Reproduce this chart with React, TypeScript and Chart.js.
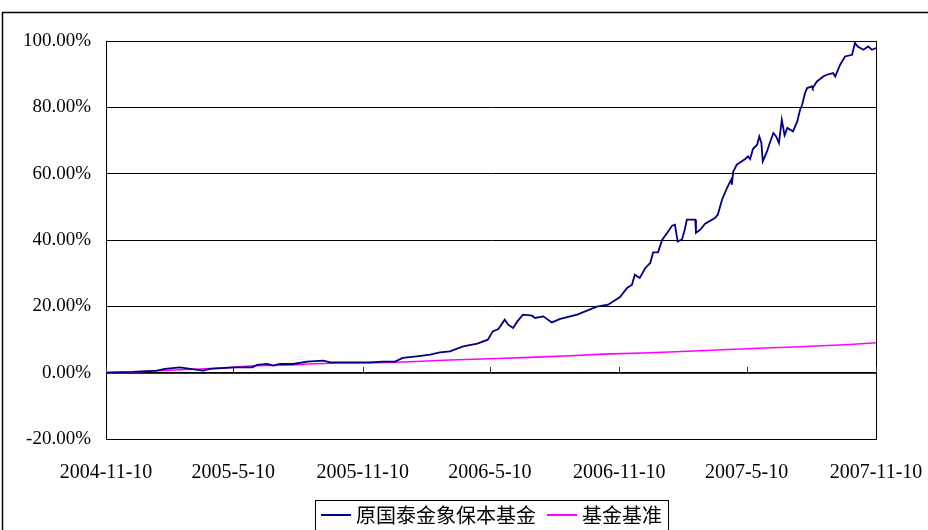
import React, { useEffect, useRef } from 'react';
import { Chart, registerables } from 'chart.js';

Chart.register(...registerables);

const W = 928;
const H = 530;

// Series names (legend)
const seriesNames = ['原国泰金象保本基金', '基金基准'];

// X axis: days since 2004-11-10, tick positions and labels
const tickDays = [0, 181, 365, 546, 730, 911, 1095];
const tickLabels = ['2004-11-10', '2005-5-10', '2005-11-10', '2006-5-10', '2006-11-10', '2007-5-10', '2007-11-10'];

// Y axis
const yMin = -20;
const yMax = 100;
const yStep = 20;

// Fund cumulative return (%)
const fundDays = [
  0, 38, 72, 84, 105, 120, 138, 148, 181, 208,
  215, 229, 238, 247, 266, 286, 309, 319, 351, 375,
  393, 411, 422, 442, 461, 475, 489, 508, 528, 543,
  550, 558, 567, 572, 579, 585, 593, 606, 610, 622,
  634, 646, 670, 685, 698, 714, 731, 741, 748, 752,
  759, 767, 774, 778, 785, 791, 798, 805, 809, 813,
  819, 823, 826, 838, 839, 845, 852, 866, 870, 876,
  883, 889, 890, 892, 897, 909, 913, 916, 920, 926,
  929, 932, 934, 940, 944, 949, 953, 957, 961, 965,
  969, 977, 983, 987, 990, 994, 997, 1004, 1005, 1011,
  1020, 1025, 1034, 1037, 1044, 1051, 1061, 1065, 1069, 1077,
  1084, 1089, 1095,
];
const fundValues = [
  0, 0.21, 0.6, 1.12, 1.6, 1.12, 0.6, 1.12, 1.6, 1.6,
  2.32, 2.62, 2.11, 2.62, 2.62, 3.32, 3.62, 3.1, 3.1, 3.1,
  3.32, 3.32, 4.43, 4.91, 5.43, 6.12, 6.42, 7.93, 8.74, 9.95,
  12.45, 13.17, 15.98, 14.47, 13.47, 15.46, 17.48, 17.18, 16.49, 16.97,
  15.16, 16.19, 17.48, 18.78, 19.9, 20.5, 22.82, 25.53, 26.53, 29.54,
  28.55, 31.56, 33.07, 36.26, 36.26, 40.09, 42.11, 44.31, 44.61, 39.58,
  40.09, 43.1, 46.12, 46.12, 42.11, 43.1, 44.91, 46.63, 47.63, 52.15,
  55.67, 58.18, 56.67, 60.68, 62.7, 64.42, 65.2, 64.42, 67.43, 68.73,
  71.23, 69.24, 63.69, 66.71, 69.24, 72.25, 71.23, 69.24, 76.26, 71.6,
  73.8, 72.73, 75.75, 79.28, 80.78, 84.31, 85.82, 86.3, 85.82, 87.81,
  89.31, 89.83, 90.34, 89.31, 92.84, 95.34, 95.85, 99.38, 98.36, 97.36,
  98.36, 97.36, 97.9,
];

// Benchmark return (%)
const benchDays = [0, 38, 76, 105, 134, 181, 209, 266, 286, 333, 375, 432, 489, 546, 603, 660, 707, 774, 845, 909, 987, 1058, 1095];
const benchValues = [0, 0.2, 0.6, 0.9, 1.1, 1.6, 2.1, 2.3, 2.6, 2.9, 2.9, 3.3, 3.8, 4.2, 4.6, 5.1, 5.6, 6.0, 6.6, 7.2, 7.8, 8.5, 9.0];

const seriesColors = ['#000080', '#FF00FF'];

const serif = '"Liberation Serif", "DejaVu Serif", serif';
const legendFont = '20px "Noto Sans CJK SC", sans-serif';

const framePlugin = {
  id: 'framePlugin',
  beforeDraw(chart: any) {
    const { ctx } = chart;
    ctx.save();
    ctx.fillStyle = '#ffffff';
    ctx.fillRect(0, 0, W, H);
    ctx.strokeStyle = '#000000';
    ctx.lineWidth = 1.5;
    ctx.beginPath();
    ctx.moveTo(2.5, H + 10);
    ctx.lineTo(2.5, 12.5);
    ctx.lineTo(W + 10, 12.5);
    ctx.stroke();
    ctx.restore();
  },
  beforeDatasetsDraw(chart: any) {
    const { ctx, chartArea, scales } = chart;
    const y0 = scales.y.getPixelForValue(0);
    ctx.save();
    ctx.strokeStyle = '#000000';
    ctx.lineWidth = 1;
    ctx.strokeRect(Math.round(chartArea.left) + 0.5, Math.round(chartArea.top) + 0.5,
      Math.round(chartArea.right - chartArea.left), Math.round(chartArea.bottom - chartArea.top));
    ctx.strokeStyle = '#333333';
    ctx.beginPath();
    ctx.moveTo(chartArea.left, Math.round(y0) + 0.5);
    ctx.lineTo(chartArea.right, Math.round(y0) + 0.5);
    for (const d of tickDays) {
      const x = Math.round(scales.x.getPixelForValue(d)) + 0.5;
      ctx.moveTo(x, Math.round(y0) - 6);
      ctx.lineTo(x, Math.round(y0));
    }
    ctx.stroke();
    ctx.restore();
  },
  afterDraw(chart: any) {
    const { ctx, chartArea } = chart;
    ctx.save();
    ctx.font = legendFont;
    const lineW = 30;
    const gapLT = 5;
    const gapItems = 11;
    const padX = 6;
    const items = chart.data.datasets.map((ds: any) => ({
      label: ds.label as string,
      color: ds.borderColor as string,
      w: ctx.measureText(ds.label).width,
    }));
    let total = padX * 2 + gapItems * (items.length - 1);
    for (const it of items) total += lineW + gapLT + it.w;
    const center = (chartArea.left + chartArea.right) / 2;
    const left = Math.round(center - total / 2);
    const top = 500;
    ctx.strokeStyle = '#000000';
    ctx.lineWidth = 1;
    ctx.strokeRect(left + 0.5, top + 0.5, Math.round(total), 40);
    const cy = 515;
    let x = left + padX;
    ctx.textBaseline = 'middle';
    ctx.textAlign = 'left';
    for (const it of items) {
      ctx.strokeStyle = it.color;
      ctx.lineWidth = 2;
      ctx.beginPath();
      ctx.moveTo(x, cy);
      ctx.lineTo(x + lineW, cy);
      ctx.stroke();
      x += lineW + gapLT;
      ctx.fillStyle = '#000000';
      ctx.fillText(it.label, x, cy);
      x += it.w + gapItems;
    }
    ctx.restore();
  },
};

export default function App() {
  const ref = useRef<HTMLCanvasElement>(null);
  useEffect(() => {
    document.body.style.margin = '0';
    const canvas = ref.current;
    if (!canvas) return;
    const chart = new Chart(canvas, {
      type: 'line',
      data: {
        datasets: [
          {
            label: seriesNames[0],
            data: fundDays.map((d, i) => ({ x: d, y: fundValues[i] })),
            borderColor: seriesColors[0],
            backgroundColor: seriesColors[0],
            borderWidth: 1.8,
            pointRadius: 0,
            tension: 0,
          },
          {
            label: seriesNames[1],
            data: benchDays.map((d, i) => ({ x: d, y: benchValues[i] })),
            borderColor: seriesColors[1],
            backgroundColor: seriesColors[1],
            borderWidth: 1.6,
            pointRadius: 0,
            tension: 0,
          },
        ],
      },
      options: {
        responsive: false,
        animation: false,
        layout: { padding: { left: 0, right: 52, top: 41, bottom: 41 } },
        plugins: {
          legend: { display: false },
          tooltip: { enabled: false },
          title: { display: false },
        },
        scales: {
          x: {
            type: 'linear',
            min: tickDays[0],
            max: tickDays[tickDays.length - 1],
            afterBuildTicks: (s: any) => {
              s.ticks = tickDays.map((v) => ({ value: v }));
            },
            afterFit: (s: any) => {
              s.height = 50;
              s.paddingLeft = 0;
              s.paddingRight = 0;
            },
            ticks: {
              autoSkip: false,
              maxRotation: 0,
              padding: 22,
              color: '#000000',
              font: { family: serif, size: 20 },
              callback: (v: any) => {
                const i = tickDays.indexOf(Number(v));
                return i >= 0 ? tickLabels[i] : '';
              },
            },
            grid: { display: false, drawTicks: false },
            border: { display: false },
          },
          y: {
            min: yMin,
            max: yMax,
            afterFit: (s: any) => {
              s.width = 106;
              s.paddingTop = 0;
              s.paddingBottom = 0;
            },
            ticks: {
              stepSize: yStep,
              padding: 15,
              color: '#000000',
              font: { family: serif, size: 19 },
              callback: (v: any) => Number(v).toFixed(2) + '%',
            },
            grid: { color: '#000000', lineWidth: 1, drawTicks: false },
            border: { display: true, color: '#000000' },
          },
        },
      } as any,
      plugins: [framePlugin],
    });
    return () => chart.destroy();
  }, []);
  return (
    <div style={{ width: W, height: H, position: 'relative' }}>
      <canvas ref={ref} width={W} height={H} style={{ display: 'block', width: W, height: H }} />
    </div>
  );
}
